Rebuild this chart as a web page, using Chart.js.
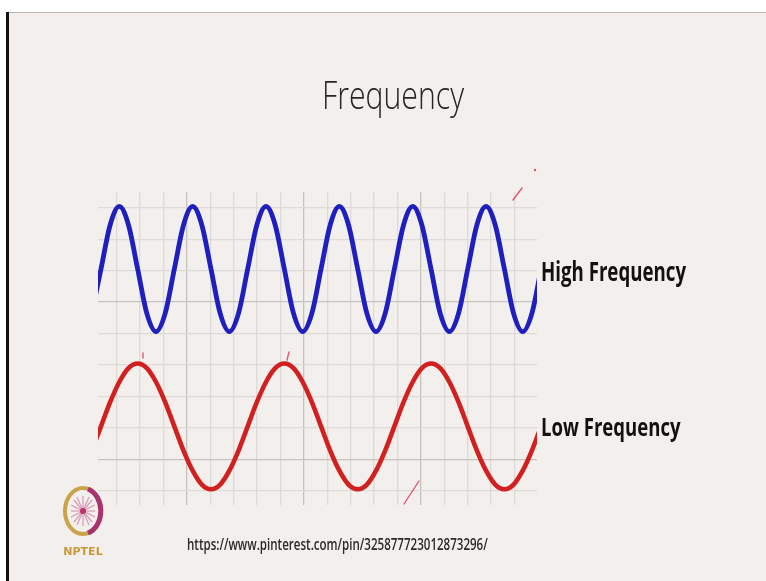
<!DOCTYPE html>
<html>
<head>
<meta charset="utf-8">
<script src="https://cdn.jsdelivr.net/npm/chart.js@4/dist/chart.umd.min.js"></script>
<style>
  html, body { margin:0; padding:0; width:766px; height:581px; overflow:hidden; background:#ffffff; }
  #slide { position:absolute; left:9px; top:12px; width:757px; height:569px; background:#f3efec;
           border-top:1px solid #b9b6b4; }
  #bar { position:absolute; left:6px; top:12px; width:3px; height:569px; background:#111; }
  #chart { position:absolute; left:0; top:0; }
  .txt { position:absolute; white-space:nowrap; transform-origin:0 0; }
  .txt i { display:inline-block; width:0; height:0; }
  #logo { position:absolute; left:58px; top:484px; }
</style>
</head>
<body>
<div id="slide"></div>
<div id="bar"></div>
<canvas id="chart" width="766" height="581"></canvas>
<svg id="logo" width="52" height="76" viewBox="0 0 52 76">
  <ellipse cx="25" cy="27" rx="18" ry="23" fill="none" stroke="#c9a24a" stroke-width="4"/>
  <path d="M30 5 A18 23 0 0 1 30 49" fill="none" stroke="#a8336e" stroke-width="5"/>
  <g stroke="#d59ab6" stroke-width="1.2">
    <line x1="25" y1="12" x2="25" y2="42"/><line x1="13" y1="27" x2="37" y2="27"/>
    <line x1="16" y1="16" x2="34" y2="38"/><line x1="34" y1="16" x2="16" y2="38"/>
    <line x1="19" y1="13" x2="31" y2="41"/><line x1="31" y1="13" x2="19" y2="41"/>
    <line x1="13" y1="21" x2="37" y2="33"/><line x1="13" y1="33" x2="37" y2="21"/>
  </g>
  <circle cx="25" cy="27" r="3" fill="#c0306a"/>
  <text x="25" y="71" text-anchor="middle" font-family="DejaVu Sans" font-weight="bold" font-size="11" fill="#c99a3a">NPTEL</text>
</svg>
<svg id="marks" width="766" height="581" style="position:absolute;left:0;top:0;pointer-events:none">
  <g stroke="#e0506a" stroke-width="1.3" fill="none" stroke-linecap="round">
    <line x1="513" y1="200" x2="522" y2="188"/>
    <line x1="404" y1="504" x2="419" y2="481"/>
    <line x1="143" y1="353" x2="143" y2="358"/>
    <line x1="287" y1="360" x2="289" y2="352"/>
  </g>
  <circle cx="535" cy="170" r="1.2" fill="#e0506a"/>
</svg>
<script>
// ---- data ----
// sample positions along the x axis (minor grid units)
const xs = [-1.064,-0.673,-0.281,0.111,0.503,0.895,1.286,1.678,2.070,2.462,2.854,3.245,3.637,4.029,4.421,4.813,5.204,5.596,5.988,6.380,6.772,7.163,7.555,7.947,8.339,8.731,9.122,9.514,9.906,10.298,10.690,11.081,11.473,11.865,12.257,12.649,13.040,13.432,13.824,14.216,14.608,14.999,15.391,15.783,16.175,16.567,16.958,17.350,17.742,18.134,18.526];
// high frequency (blue) wave values
const highFreq = [5.64,7.05,8.45,
  9.04,8.45,7.05,5.64,5.06,5.64,7.05,8.45,
  9.04,8.45,7.05,5.64,5.06,5.64,7.05,8.45,
  9.04,8.45,7.05,5.64,5.06,5.64,7.05,8.45,
  9.04,8.45,7.05,5.64,5.06,5.64,7.05,8.45,
  9.04,8.45,7.05,5.64,5.06,5.64,7.05,8.45,
  9.04,8.45,7.05,5.64,5.06,5.64,7.05,8.45];
// low frequency (red) wave values
const lowFreq = [1.28,2.05,2.82,3.46,3.90,
  4.05,3.90,3.46,2.82,2.05,1.28,0.64,0.20,0.05,0.20,0.64,1.28,2.05,2.82,3.46,3.90,
  4.05,3.90,3.46,2.82,2.05,1.28,0.64,0.20,0.05,0.20,0.64,1.28,2.05,2.82,3.46,3.90,
  4.05,3.90,3.46,2.82,2.05,1.28,0.64,0.20,0.05,0.20,0.64,1.28,2.05];
// background grid
const xGrid = [0,1,2,3,4,5,6,7,8,9,10,11,12,13,14,15,16,17];
const xMajor = [3,8,13];
const yGrid = [0,1,2,3,4,5,6,7,8,9];
const yMajor = [1,6];
const labels = ["Frequency","High Frequency","Low Frequency","https://www.pinterest.com/pin/325877723012873296/"];

const minorCol = '#dedad7', majorCol = '#c6c2bf';
new Chart(document.getElementById('chart'), {
  type: 'line',
  data: {
    datasets: [
      { label: labels[1], data: xs.map((x,i)=>({x, y: highFreq[i]})), borderColor:'#1f1fc0', borderWidth:4.8,
        pointRadius:0, cubicInterpolationMode:'monotone', clip:0, fill:false },
      { label: labels[2], data: xs.map((x,i)=>({x, y: lowFreq[i]})), borderColor:'#d22020', borderWidth:4.6,
        pointRadius:0, cubicInterpolationMode:'monotone', clip:0, fill:false }
    ]
  },
  options: {
    responsive:false, animation:false, events:[],
    layout:{ padding:{ left:98, right:229, top:192, bottom:76 } },
    plugins:{ legend:{display:false}, tooltip:{enabled:false}, title:{display:false} },
    scales:{
      x:{ type:'linear', min:-0.8, max:17.96,
          afterBuildTicks: s => { s.ticks = xGrid.map(v=>({value:v})); },
          ticks:{ display:false },
          grid:{ drawTicks:false, lineWidth:1.3, color: c => xMajor.includes(c.tick && c.tick.value) ? majorCol : minorCol },
          border:{ display:false } },
      y:{ type:'linear', min:-0.45, max:9.5,
          afterBuildTicks: s => { s.ticks = yGrid.map(v=>({value:v})); },
          ticks:{ display:false },
          grid:{ drawTicks:false, lineWidth:1.3, color: c => yMajor.includes(c.tick && c.tick.value) ? majorCol : minorCol },
          border:{ display:false } }
    }
  }
});

// ---- text placed by baseline, left edge, cap height and width ----
const texts = [
  { t: labels[0], left:321.5, base:109.3, cap:27.6, width:142, font:'"Open Sans"', weight:300, color:'#262626', capR:0.714 },
  { t: labels[1], left:540.7, base:280.7, cap:18.8, width:145, font:'"Open Sans"', weight:700, color:'#111', capR:0.714 },
  { t: labels[2], left:540.7, base:435.7, cap:18.4, width:139.5, font:'"Open Sans"', weight:700, color:'#111', capR:0.714 },
  { t: labels[3], left:186.7, base:549.5, cap:11.5, width:300.7, font:'"Open Sans"', weight:600, color:'#2a2a2a', capR:0.714 }
];
for (const o of texts) {
  const d = document.createElement('div');
  d.className = 'txt';
  d.style.fontFamily = o.font + ', sans-serif';
  d.style.fontWeight = o.weight;
  d.style.fontSize = (o.cap / o.capR) + 'px';
  d.style.color = o.color;
  d.style.left = o.left + 'px';
  d.style.top = '0px';
  const sp = document.createElement('span'); sp.textContent = o.t;
  const mk = document.createElement('i');
  d.appendChild(sp); d.appendChild(mk);
  document.body.appendChild(d);
  const r = d.getBoundingClientRect();
  const baseOff = mk.getBoundingClientRect().top - r.top;
  const w = sp.getBoundingClientRect().width;
  d.style.top = (o.base - baseOff) + 'px';
  d.style.transform = 'scaleX(' + (o.width / w) + ')';
}
</script>
</body>
</html>
